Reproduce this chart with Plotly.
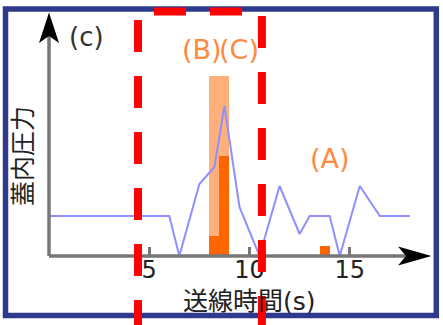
import plotly.graph_objects as go

# ---- data ----
line_x = [0, 6, 6.5, 7.5, 8.25, 8.75, 9.5, 10.5, 11.5, 12.5, 13, 14, 14.5, 15.5, 16.5, 18]
line_y = [4, 4, 0, 7.2, 8.9, 15, 4.9, 0, 7, 2.2, 4, 4, 0, 7, 4, 4]

light_bar_x = [8.5]
light_bar_y = [18]
light_bar_w = [1.0]

dark_bar_x = [8.25, 8.75, 13.75]
dark_bar_y = [2, 10, 1]
dark_bar_w = [0.5, 0.5, 0.5]

tick_vals = [5, 10, 15]
tick_text = ["5", "10", "15"]

window_x = [4.44, 10.62]   # red dashed window edges (data x)

x_title = "送線時間(s)"
y_title = "蓋内圧力"
panel_label = "(c)"
labels_text = ["(B)", "(C)", "(A)"]

# ---- layout geometry (pixels) ----
W, H = 443, 325
ML, MR, MT, MB = 49, 12, 12, 69
PW, PH = W - ML - MR, H - MT - MB
X_UNIT = 20.05   # px per x unit
Y_UNIT = 10.0    # px per y unit
X_RANGE = [0, PW / X_UNIT]
Y_RANGE = [0, PH / Y_UNIT]


def px(x):
    return (x - ML) / PW


def py(y):
    return (H - MB - y) / PH


FONT = "DejaVu Sans, Noto Sans CJK JP"
ORANGE_TXT = "#FF8A3D"

fig = go.Figure()
fig.add_trace(go.Bar(x=light_bar_x, y=light_bar_y, width=light_bar_w,
                     marker=dict(color="#FFB07A", line=dict(width=0)), hoverinfo="skip"))
fig.add_trace(go.Bar(x=dark_bar_x, y=dark_bar_y, width=dark_bar_w,
                     marker=dict(color="#FF6600", line=dict(width=0)), hoverinfo="skip"))
fig.add_trace(go.Scatter(x=line_x, y=line_y, mode="lines",
                         line=dict(color="#8F8FFF", width=2), hoverinfo="skip"))

shapes = []
# outer border
shapes.append(dict(type="rect", xref="paper", yref="paper",
                   x0=px(5.5), x1=px(436.3), y0=py(315.5), y1=py(9),
                   line=dict(color="#2E3A8C", width=5.5), layer="above"))
# axis lines
shapes.append(dict(type="line", xref="paper", yref="paper",
                   x0=px(49), x1=px(408), y0=py(256), y1=py(256),
                   line=dict(color="#777777", width=3.5), layer="above"))
shapes.append(dict(type="line", xref="paper", yref="paper",
                   x0=px(49), x1=px(49), y0=py(256), y1=py(34),
                   line=dict(color="#777777", width=3.5), layer="above"))
# arrow heads
xa = [(431.5, 256), (398, 246.5), (406, 256), (398, 265.5)]
ya = [(49, 12.5), (39, 43), (49, 36), (59, 43)]
for pts in (xa, ya):
    path = "M " + " L ".join(f"{px(a):.5f},{py(b):.5f}" for a, b in pts) + " Z"
    shapes.append(dict(type="path", xref="paper", yref="paper", path=path,
                       fillcolor="#000000", line=dict(width=0), layer="above"))
# red dashed window
dash = "32px,24px"
shapes.append(dict(type="line", xref="x", yref="paper",
                   x0=window_x[0], x1=window_x[0], y0=py(20), y1=py(340),
                   line=dict(color="#FF0000", width=8, dash=dash), layer="above"))
shapes.append(dict(type="line", xref="x", yref="paper",
                   x0=window_x[1], x1=window_x[1], y0=py(16), y1=py(340),
                   line=dict(color="#FF0000", width=8, dash=dash), layer="above"))
shapes.append(dict(type="line", xref="paper", yref="paper",
                   x0=px(154), x1=px(262), y0=py(11.5), y1=py(11.5),
                   line=dict(color="#FF0000", width=8, dash=dash), layer="above"))

annotations = [
    dict(text=panel_label, x=px(86), y=py(37), xref="paper", yref="paper",
         showarrow=False, xanchor="center", yanchor="middle",
         font=dict(family=FONT, size=26, color="#333333")),
    dict(text=labels_text[0], x=px(201.5), y=py(50), xref="paper", yref="paper",
         showarrow=False, xanchor="center", yanchor="middle",
         font=dict(family=FONT, size=27, color=ORANGE_TXT)),
    dict(text=labels_text[1], x=px(238.5), y=py(50), xref="paper", yref="paper",
         showarrow=False, xanchor="center", yanchor="middle",
         font=dict(family=FONT, size=27, color=ORANGE_TXT)),
    dict(text=labels_text[2], x=px(330), y=py(158), xref="paper", yref="paper",
         showarrow=False, xanchor="center", yanchor="middle",
         font=dict(family=FONT, size=27, color=ORANGE_TXT)),
    dict(text=y_title, x=px(21), y=py(156), xref="paper", yref="paper",
         showarrow=False, xanchor="center", yanchor="middle", textangle=-90,
         font=dict(family="Noto Sans CJK JP", size=25, color="#222222")),
    dict(text=x_title, x=px(249), y=py(301), xref="paper", yref="paper",
         showarrow=False, xanchor="center", yanchor="middle",
         font=dict(family=FONT, size=25, color="#222222")),
]

fig.update_layout(
    width=W, height=H,
    margin=dict(l=ML, r=MR, t=MT, b=MB, pad=0),
    paper_bgcolor="white", plot_bgcolor="white",
    showlegend=False, barmode="overlay", bargap=0,
    shapes=shapes, annotations=annotations,
    xaxis=dict(range=X_RANGE, showgrid=False, zeroline=False, showline=False,
               ticks="inside", ticklen=9, tickwidth=2.5, tickcolor="#777777",
               tickvals=tick_vals, ticktext=tick_text, ticklabelstandoff=-3,
               tickfont=dict(family="DejaVu Sans", size=24, color="#222222")),
    yaxis=dict(range=Y_RANGE, visible=False, fixedrange=True),
)

fig.write_html("out.html", config={"displayModeBar": False},
               post_script="document.body.style.margin='0px';")
